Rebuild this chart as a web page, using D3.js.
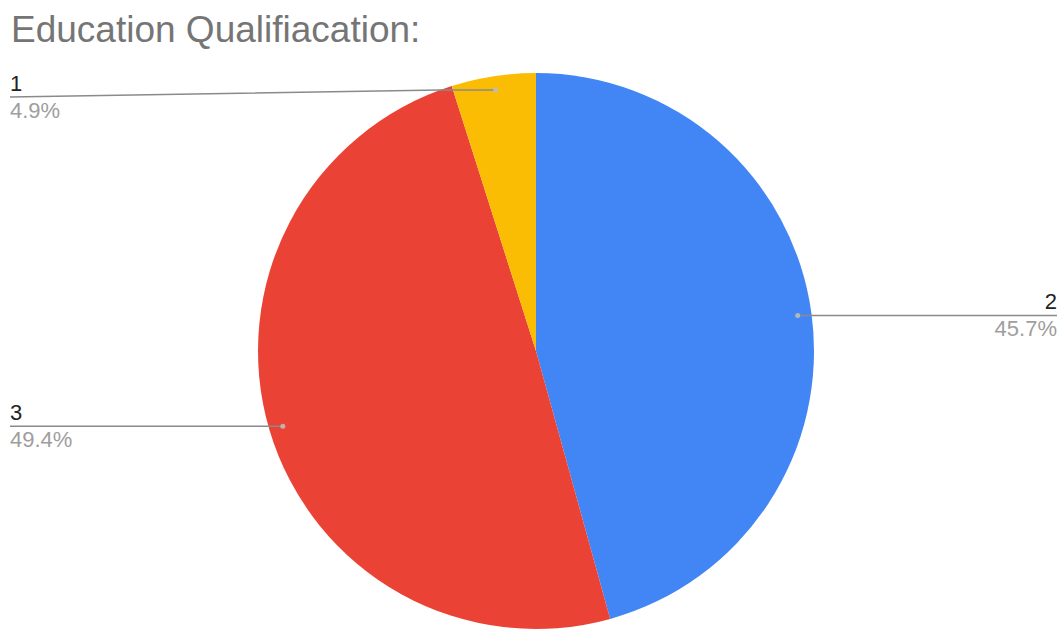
<!DOCTYPE html>
<html>
<head>
<meta charset="utf-8">
<script src="https://cdn.jsdelivr.net/npm/d3@7"></script>
<style>
  html, body { margin: 0; padding: 0; background: #fff; }
  svg { display: block; font-family: "Liberation Sans", Arial, sans-serif; }
</style>
</head>
<body>
<div id="chart"></div>
<script>
// data, in the order the slices run clockwise from 12 o'clock
const categories = ["2", "3", "1"];
const values = [45.7, 49.4, 4.9];
const percentLabels = ["45.7%", "49.4%", "4.9%"];
const sliceColors = ["#4285f4", "#ea4335", "#fbbc04"];
const titleText = "Education Qualifiacation:";

const width = 1062, height = 630;
const cx = 536, cy = 351, radius = 278;
const minLineY = 97; // keep leader lines below the title

const svg = d3.select("#chart").append("svg")
    .attr("width", width)
    .attr("height", height);

svg.append("text")
    .attr("x", 11)
    .attr("y", 42)
    .attr("font-size", 37)
    .attr("fill", "#757575")
    .text(titleText);

const pie = d3.pie().sort(null).value(d => d);
const arcs = pie(values);
const arc = d3.arc().innerRadius(0).outerRadius(radius);

const g = svg.append("g").attr("transform", `translate(${cx},${cy})`);

g.selectAll("path.slice")
    .data(arcs)
    .join("path")
    .attr("class", "slice")
    .attr("d", arc)
    .attr("fill", (d, i) => sliceColors[i]);

// leader lines + labels
const dotArc = d3.arc().innerRadius(radius * 0.95).outerRadius(radius * 0.95);

arcs.forEach((d, i) => {
    const [dx, dy] = dotArc.centroid(d);
    const right = dx > 0;
    const edgeX = Math.sqrt(radius * radius - dy * dy) * (right ? 1 : -1);
    const lineY = Math.max(cy + dy, minLineY) - cy;
    const labelX = right ? width - 5 - cx : 10 - cx;

    g.append("path")
        .attr("d", d3.line()([[dx, dy], [edgeX, dy], [labelX, lineY]]))
        .attr("fill", "none")
        .attr("stroke", "#8a8a8a")
        .attr("stroke-width", 1.5);

    g.append("circle")
        .attr("cx", dx)
        .attr("cy", dy)
        .attr("r", 2.5)
        .attr("fill", "#bdbdbd")
        .attr("opacity", 0.9);

    g.append("text")
        .attr("x", labelX)
        .attr("y", lineY - 6)
        .attr("text-anchor", right ? "end" : "start")
        .attr("font-size", 22)
        .attr("fill", "#222")
        .text(categories[i]);

    g.append("text")
        .attr("x", labelX)
        .attr("y", lineY + 21)
        .attr("text-anchor", right ? "end" : "start")
        .attr("font-size", 22)
        .attr("fill", "#9e9e9e")
        .text(percentLabels[i]);
});
</script>
</body>
</html>
